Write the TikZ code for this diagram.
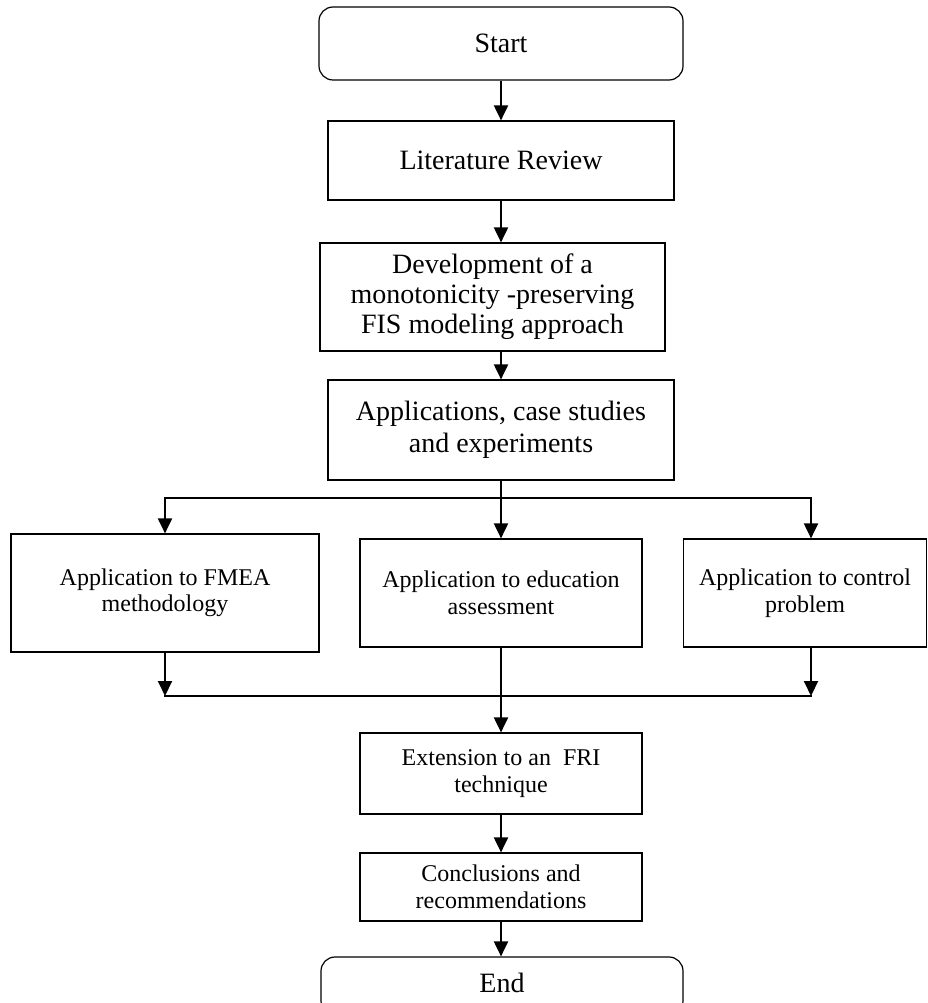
\documentclass[tikz,border=0pt]{standalone}
\usepackage{fontspec}
\setmainfont{Liberation Serif}
\usetikzlibrary{arrows.meta}
\begin{document}
\begin{tikzpicture}[x=1pt,y=-1pt,
  box/.style={draw, line width=1.2pt, align=center, inner sep=0pt},
  bigtxt/.style={font=\fontsize{28}{31}\selectfont},
  smalltxt/.style={font=\fontsize{24}{26.5}\selectfont},
  arr/.style={line width=2pt, -{Triangle[length=15pt,width=14pt]}},
  hline/.style={line width=1.8pt, line cap=rect}
]
\useasboundingbox (0,0) rectangle (928,1003);

\node[box, bigtxt, rounded corners=14pt, minimum width=364pt, minimum height=73pt] (start) at (501,43.5) {Start};
\node[box, bigtxt, minimum width=346pt, minimum height=79pt] (lit) at (501,160.5) {\raisebox{-5pt}{Literature Review}};
\node[box, bigtxt, minimum width=345pt, minimum height=108pt, font=\fontsize{28}{30}\selectfont] (dev) at (492.5,297) {Development of a\\monotonicity -preserving\\FIS modeling approach};
\node[box, bigtxt, minimum width=346pt, minimum height=100pt, font=\fontsize{28}{32}\selectfont] (app) at (501,430) {Applications, case studies\\and experiments};

\node[box, smalltxt, minimum width=308pt, minimum height=118pt] (left) at (165,593) {Application to FMEA\\methodology};
\node[box, smalltxt, minimum width=282pt, minimum height=108pt] (mid) at (501,593) {Application to education\\assessment};
\node[box, smalltxt, minimum width=243pt, minimum height=108pt] (right) at (805,593) {Application to control\\problem};

\node[box, smalltxt, minimum width=282pt, minimum height=81pt] (ext) at (501,773.5) {Extension to an\ \ FRI\\technique};
\node[box, smalltxt, minimum width=282pt, minimum height=68pt] (concl) at (501,887) {Conclusions and\\recommendations};
\node[box, bigtxt, rounded corners=14pt, minimum width=362pt, minimum height=58pt] (end) at (502,986) {\raisebox{6pt}{End}};

\coordinate (hL) at (165,498);
\coordinate (hR) at (811,498);
\coordinate (bL) at (165,696);
\coordinate (bR) at (811,696);

\draw[arr] (start.south) -- (lit.north);
\draw[arr] (lit.south) -- (lit.south |- dev.north);
\draw[arr] (app.north |- dev.south) -- (app.north);

\draw[hline] (hL) -- (hR);
\draw[arr] (app.south) -- (mid.north);
\draw[arr] (hL) -- (hL |- left.north);
\draw[arr] (hR) -- (hR |- right.north);

\draw[hline] (bL) -- (bR);
\draw[arr] (hL |- left.south) -- (bL);
\draw[arr] (hR |- right.south) -- (bR);
\draw[arr] (mid.south) -- (ext.north);
\draw[arr] (ext.south) -- (concl.north);
\draw[arr] (concl.south) -- (concl.south |- end.north);
\end{tikzpicture}
\end{document}
